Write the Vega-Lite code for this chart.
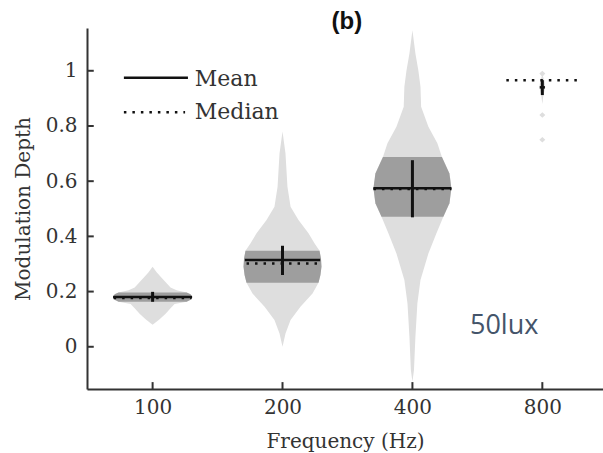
{
  "$schema": "https://vega.github.io/schema/vega-lite/v6.json",
  "width": 516,
  "height": 361,
  "autosize": "none",
  "padding": {"left": 87, "top": 28, "right": 0, "bottom": 64},
  "background": "white",
  "config": {
    "view": {"stroke": null},
    "axis": {
      "domainColor": "#333333", "domainWidth": 2,
      "ticks": false,
      "labelFont": "DejaVu Serif", "labelColor": "#333333", "labelFontSize": 20,
      "titleFont": "DejaVu Serif", "titleFontWeight": "normal", "titleColor": "#333333", "titleFontSize": 20,
      "grid": false
    }
  },
  "datasets": {
    "violin": [
      {"f": "100", "v": 0.29, "lo": 1.0, "hi": 1.0, "iqr": false},
      {"f": "100", "v": 0.27, "lo": 0.969, "hi": 1.031, "iqr": false},
      {"f": "100", "v": 0.25, "lo": 0.931, "hi": 1.069, "iqr": false},
      {"f": "100", "v": 0.23, "lo": 0.892, "hi": 1.108, "iqr": false},
      {"f": "100", "v": 0.215, "lo": 0.862, "hi": 1.138, "iqr": false},
      {"f": "100", "v": 0.205, "lo": 0.815, "hi": 1.185, "iqr": false},
      {"f": "100", "v": 0.197, "lo": 0.738, "hi": 1.262, "iqr": true},
      {"f": "100", "v": 0.19, "lo": 0.708, "hi": 1.292, "iqr": true},
      {"f": "100", "v": 0.18, "lo": 0.696, "hi": 1.304, "iqr": true},
      {"f": "100", "v": 0.17, "lo": 0.708, "hi": 1.292, "iqr": true},
      {"f": "100", "v": 0.163, "lo": 0.738, "hi": 1.262, "iqr": true},
      {"f": "100", "v": 0.155, "lo": 0.831, "hi": 1.169, "iqr": false},
      {"f": "100", "v": 0.14, "lo": 0.862, "hi": 1.138, "iqr": false},
      {"f": "100", "v": 0.12, "lo": 0.9, "hi": 1.1, "iqr": false},
      {"f": "100", "v": 0.1, "lo": 0.946, "hi": 1.054, "iqr": false},
      {"f": "100", "v": 0.08, "lo": 1.0, "hi": 1.0, "iqr": false},

      {"f": "200", "v": 0.78, "lo": 2.0, "hi": 2.0, "iqr": false},
      {"f": "200", "v": 0.7, "lo": 1.977, "hi": 2.023, "iqr": false},
      {"f": "200", "v": 0.58, "lo": 1.962, "hi": 2.038, "iqr": false},
      {"f": "200", "v": 0.507, "lo": 1.938, "hi": 2.062, "iqr": false},
      {"f": "200", "v": 0.459, "lo": 1.877, "hi": 2.123, "iqr": false},
      {"f": "200", "v": 0.411, "lo": 1.8, "hi": 2.2, "iqr": false},
      {"f": "200", "v": 0.375, "lo": 1.754, "hi": 2.246, "iqr": false},
      {"f": "200", "v": 0.348, "lo": 1.715, "hi": 2.285, "iqr": true},
      {"f": "200", "v": 0.32, "lo": 1.704, "hi": 2.296, "iqr": true},
      {"f": "200", "v": 0.29, "lo": 1.7, "hi": 2.3, "iqr": true},
      {"f": "200", "v": 0.26, "lo": 1.708, "hi": 2.292, "iqr": true},
      {"f": "200", "v": 0.232, "lo": 1.723, "hi": 2.277, "iqr": true},
      {"f": "200", "v": 0.193, "lo": 1.769, "hi": 2.231, "iqr": false},
      {"f": "200", "v": 0.145, "lo": 1.862, "hi": 2.138, "iqr": false},
      {"f": "200", "v": 0.097, "lo": 1.938, "hi": 2.062, "iqr": false},
      {"f": "200", "v": 0.048, "lo": 1.977, "hi": 2.023, "iqr": false},
      {"f": "200", "v": 0.0, "lo": 2.0, "hi": 2.0, "iqr": false},

      {"f": "400", "v": 1.147, "lo": 3.0, "hi": 3.0, "iqr": false},
      {"f": "400", "v": 1.063, "lo": 2.977, "hi": 3.023, "iqr": false},
      {"f": "400", "v": 1.0, "lo": 2.954, "hi": 3.046, "iqr": false},
      {"f": "400", "v": 0.942, "lo": 2.938, "hi": 3.062, "iqr": false},
      {"f": "400", "v": 0.87, "lo": 2.933, "hi": 3.067, "iqr": false},
      {"f": "400", "v": 0.797, "lo": 2.877, "hi": 3.123, "iqr": false},
      {"f": "400", "v": 0.737, "lo": 2.808, "hi": 3.192, "iqr": false},
      {"f": "400", "v": 0.688, "lo": 2.773, "hi": 3.227, "iqr": true},
      {"f": "400", "v": 0.628, "lo": 2.715, "hi": 3.285, "iqr": true},
      {"f": "400", "v": 0.574, "lo": 2.7, "hi": 3.3, "iqr": true},
      {"f": "400", "v": 0.52, "lo": 2.715, "hi": 3.285, "iqr": true},
      {"f": "400", "v": 0.471, "lo": 2.762, "hi": 3.238, "iqr": true},
      {"f": "400", "v": 0.411, "lo": 2.815, "hi": 3.185, "iqr": false},
      {"f": "400", "v": 0.338, "lo": 2.877, "hi": 3.123, "iqr": false},
      {"f": "400", "v": 0.242, "lo": 2.938, "hi": 3.062, "iqr": false},
      {"f": "400", "v": 0.157, "lo": 2.962, "hi": 3.038, "iqr": false},
      {"f": "400", "v": 0.036, "lo": 2.977, "hi": 3.023, "iqr": false},
      {"f": "400", "v": -0.084, "lo": 2.988, "hi": 3.012, "iqr": false},
      {"f": "400", "v": -0.127, "lo": 3.0, "hi": 3.0, "iqr": false},

      {"f": "800", "v": 1.0, "lo": 4.0, "hi": 4.0, "iqr": false},
      {"f": "800", "v": 0.99, "lo": 3.977, "hi": 4.023, "iqr": false},
      {"f": "800", "v": 0.98, "lo": 3.996, "hi": 4.004, "iqr": false},
      {"f": "800", "v": 0.966, "lo": 3.985, "hi": 4.015, "iqr": false},
      {"f": "800", "v": 0.94, "lo": 3.977, "hi": 4.023, "iqr": false},
      {"f": "800", "v": 0.91, "lo": 3.992, "hi": 4.008, "iqr": false},
      {"f": "800", "v": 0.88, "lo": 4.0, "hi": 4.0, "iqr": false},
      {"f": "800", "v": 0.85, "lo": 4.0, "hi": 4.0, "iqr": false},
      {"f": "800", "v": 0.84, "lo": 3.977, "hi": 4.023, "iqr": false},
      {"f": "800", "v": 0.83, "lo": 4.0, "hi": 4.0, "iqr": false},
      {"f": "800", "v": 0.76, "lo": 4.0, "hi": 4.0, "iqr": false},
      {"f": "800", "v": 0.75, "lo": 3.977, "hi": 4.023, "iqr": false},
      {"f": "800", "v": 0.74, "lo": 4.0, "hi": 4.0, "iqr": false}
    ],
    "hlines": [
      {"f": "100", "stat": "Mean", "v": 0.18, "lo": 0.696, "hi": 1.304},
      {"f": "100", "stat": "Median", "v": 0.177, "lo": 0.7, "hi": 1.3},
      {"f": "200", "stat": "Mean", "v": 0.314, "lo": 1.71, "hi": 2.29},
      {"f": "200", "stat": "Median", "v": 0.302, "lo": 1.723, "hi": 2.277},
      {"f": "400", "stat": "Mean", "v": 0.574, "lo": 2.7, "hi": 3.3},
      {"f": "400", "stat": "Median", "v": 0.572, "lo": 2.7, "hi": 3.3},
      {"f": "800", "stat": "Mean", "v": 0.94, "lo": 3.98, "hi": 4.02},
      {"f": "800", "stat": "Median", "v": 0.966, "lo": 3.723, "hi": 4.277}
    ],
    "vlines": [
      {"f": "100", "c": 1, "low": 0.163, "high": 0.199},
      {"f": "200", "c": 2, "low": 0.26, "high": 0.366},
      {"f": "400", "c": 3, "low": 0.469, "high": 0.676},
      {"f": "800", "c": 4, "low": 0.912, "high": 0.966}
    ],
    "yticks": [{"v": 0}, {"v": 0.2}, {"v": 0.4}, {"v": 0.6}, {"v": 0.8}, {"v": 1}],
    "xticks": [{"c": 1}, {"c": 2}, {"c": 3}, {"c": 4}],
    "one": [{}]
  },
  "layer": [
    {
      "data": {"name": "violin"},
      "mark": {"type": "area", "orient": "horizontal", "color": "#dedede"},
      "encoding": {
        "y": {"field": "v", "type": "quantitative",
              "scale": {"domain": [-0.153, 1.155], "nice": false, "zero": false},
              "axis": {"values": [0, 0.2, 0.4, 0.6, 0.8, 1], "format": "~g", "labelPadding": 10,
                       "title": "Modulation Depth", "titleX": -64, "titleBaseline": "middle"}},
        "x": {"field": "lo", "type": "quantitative",
              "scale": {"domain": [0.495, 4.467], "nice": false, "zero": false},
              "axis": {"values": [1, 2, 3, 4], "labelPadding": 8,
                       "labelExpr": "datum.value == 1 ? '100' : datum.value == 2 ? '200' : datum.value == 3 ? '400' : '800'",
                       "title": "Frequency (Hz)", "titleBaseline": "alphabetic", "titleY": 58}},
        "x2": {"field": "hi"},
        "detail": {"field": "f"}
      }
    },
    {
      "data": {"name": "violin"},
      "transform": [{"filter": "datum.iqr"}],
      "mark": {"type": "area", "orient": "horizontal", "color": "#9e9e9e"},
      "encoding": {
        "y": {"field": "v", "type": "quantitative"},
        "x": {"field": "lo", "type": "quantitative"},
        "x2": {"field": "hi"},
        "detail": {"field": "f"}
      }
    },
    {
      "data": {"name": "hlines"},
      "transform": [{"filter": "datum.stat == 'Median'"}],
      "mark": {"type": "rule", "color": "#111111", "strokeWidth": 2.5, "strokeDash": [2.5, 6]},
      "encoding": {
        "y": {"field": "v", "type": "quantitative"},
        "x": {"field": "lo", "type": "quantitative"},
        "x2": {"field": "hi"}
      }
    },
    {
      "data": {"name": "hlines"},
      "transform": [{"filter": "datum.stat == 'Mean'"}],
      "mark": {"type": "rule", "color": "#111111", "strokeWidth": 2.5},
      "encoding": {
        "y": {"field": "v", "type": "quantitative"},
        "x": {"field": "lo", "type": "quantitative"},
        "x2": {"field": "hi"}
      }
    },
    {
      "data": {"name": "vlines"},
      "mark": {"type": "rule", "color": "#111111", "strokeWidth": 3},
      "encoding": {
        "x": {"field": "c", "type": "quantitative"},
        "y": {"field": "low", "type": "quantitative"},
        "y2": {"field": "high"}
      }
    },
    {
      "data": {"name": "yticks"},
      "mark": {"type": "rule", "color": "#333333", "strokeWidth": 2},
      "encoding": {
        "y": {"field": "v", "type": "quantitative"},
        "x": {"datum": 0.495},
        "x2": {"datum": 0.547}
      }
    },
    {
      "data": {"name": "xticks"},
      "mark": {"type": "rule", "color": "#333333", "strokeWidth": 2},
      "encoding": {
        "x": {"field": "c", "type": "quantitative"},
        "y": {"datum": -0.153},
        "y2": {"datum": -0.128}
      }
    },
    {
      "data": {"name": "one"},
      "mark": {"type": "rule", "color": "#111111", "strokeWidth": 2.5},
      "encoding": {"x": {"datum": 0.779}, "x2": {"datum": 1.272}, "y": {"datum": 0.975}}
    },
    {
      "data": {"name": "one"},
      "mark": {"type": "rule", "color": "#111111", "strokeWidth": 2.5, "strokeDash": [2.5, 6]},
      "encoding": {"x": {"datum": 0.779}, "x2": {"datum": 1.25}, "y": {"datum": 0.85}}
    },
    {
      "data": {"name": "one"},
      "mark": {"type": "text", "text": "Mean", "font": "DejaVu Serif", "fontSize": 22, "color": "#333333", "align": "left", "baseline": "alphabetic"},
      "encoding": {"x": {"datum": 1.325}, "y": {"datum": 0.945}}
    },
    {
      "data": {"name": "one"},
      "mark": {"type": "text", "text": "Median", "font": "DejaVu Serif", "fontSize": 22, "color": "#333333", "align": "left", "baseline": "alphabetic"},
      "encoding": {"x": {"datum": 1.325}, "y": {"datum": 0.824}}
    },
    {
      "data": {"name": "one"},
      "mark": {"type": "text", "text": "(b)", "font": "Liberation Sans", "fontWeight": "bold", "fontSize": 24, "color": "#111111", "align": "center", "baseline": "middle", "clip": false},
      "encoding": {"x": {"datum": 2.495}, "y": {"datum": 1.178}}
    },
    {
      "data": {"name": "one"},
      "mark": {"type": "text", "text": "50lux", "font": "Open Sans", "fontSize": 27, "color": "#44546a", "align": "center", "baseline": "alphabetic"},
      "encoding": {"x": {"datum": 3.706}, "y": {"datum": 0.046}}
    }
  ]
}
